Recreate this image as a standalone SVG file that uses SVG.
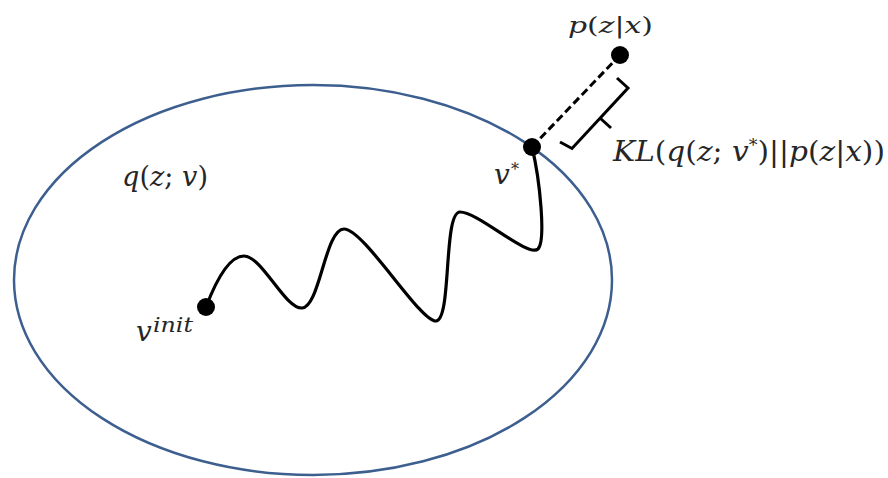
<svg xmlns="http://www.w3.org/2000/svg" width="888" height="478" viewBox="0 0 888 478">
<style>
.m{font-family:"DejaVu Serif","Liberation Serif",serif;fill:#262626;}
.i{font-style:italic;}
.dot{fill:#000;}
.set{fill:none;stroke:#3d5f8f;stroke-width:2.5;}
.path{fill:none;stroke:#000;stroke-width:3.2;stroke-linecap:round;stroke-linejoin:round;}
.dash{fill:none;stroke:#000;stroke-width:3;stroke-dasharray:8 4;}
.brk{fill:none;stroke:#000;stroke-width:3;stroke-linejoin:miter;}
</style>
<rect width="888" height="478" fill="#fff"/>
<g id="family">
<ellipse class="set" cx="313" cy="280" rx="299" ry="195"/>
<text class="m" x="122" y="186" font-size="28" textLength="86" lengthAdjust="spacingAndGlyphs"><tspan class="i">q</tspan>(<tspan class="i">z</tspan>; <tspan class="i">v</tspan>)</text>
</g>
<g id="connectors">
<path class="path" d="M206,307 C214,286 228,256 244,256 C262,256 285,309 302,308 C320,307 325,229 344,229 C364,229 420,322 436,321 C452,320 443,212 460,212 C478,212 528,258 538,249 C546,241 540,180 532,147"/>
<line class="dash" x1="532" y1="147" x2="620" y2="55"/>
<polyline class="brk" points="560,142 572,148.5 628,88 617,78"/>
<line class="brk" x1="600" y1="118" x2="611" y2="128"/>
</g>
<g id="v-init">
<circle class="dot" cx="206" cy="307" r="9"/>
<text class="m i" x="136" y="341" font-size="28">v</text>
<text class="m i" x="153" y="332" font-size="20" textLength="40" lengthAdjust="spacingAndGlyphs">init</text>
</g>
<g id="v-star">
<circle class="dot" cx="532" cy="147" r="9"/>
<text class="m i" x="494" y="184" font-size="28">v</text>
<text class="m" x="511" y="175" font-size="16">*</text>
</g>
<g id="posterior">
<circle class="dot" cx="620" cy="55" r="9"/>
<text class="m" x="568" y="33" font-size="23" textLength="85" lengthAdjust="spacingAndGlyphs"><tspan class="i">p</tspan>(<tspan class="i">z</tspan>|<tspan class="i">x</tspan>)</text>
</g>
<g id="kl">
<text class="m" x="613" y="161" font-size="27" textLength="272" lengthAdjust="spacingAndGlyphs"><tspan class="i">KL</tspan>(<tspan class="i">q</tspan>(<tspan class="i">z</tspan>; <tspan class="i">v</tspan><tspan font-size="16" dy="-10">*</tspan><tspan dy="10">)||</tspan><tspan class="i">p</tspan>(<tspan class="i">z</tspan>|<tspan class="i">x</tspan>))</text>
</g>
</svg>
